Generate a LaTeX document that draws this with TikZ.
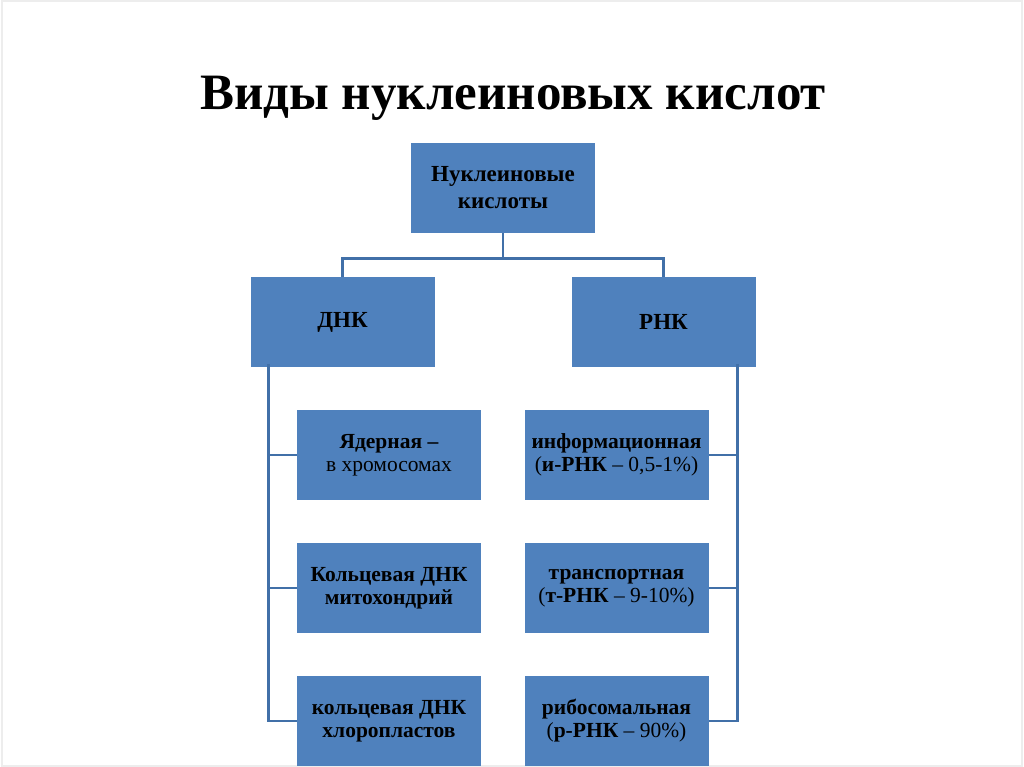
\documentclass[tikz,border=0pt]{standalone}
\usepackage{fontspec}
\setmainfont{Liberation Serif}
\usetikzlibrary{positioning}

\definecolor{boxblue}{HTML}{4F81BD}
\definecolor{lineblue}{HTML}{4170A8}

\tikzset{
  box/.style={rectangle, fill=boxblue, minimum width=184pt, minimum height=90pt,
    inner sep=0pt, align=center, text=black},
  bigbox/.style={box, font=\fontsize{23}{27}\selectfont\bfseries},
  subbox/.style={box, font=\fontsize{21.5}{23}\selectfont},
  link/.style={draw=lineblue, line width=2.6pt}
}

\begin{document}
\begin{tikzpicture}[x=1pt, y=-1pt, on grid]
  \useasboundingbox (0,0) rectangle (1024,767);
  \draw[black!7, line width=1.5pt] (2,1) rectangle (1022,766);

  \node[anchor=base, font=\fontsize{51}{54}\selectfont\bfseries] (title) at (513,110)
    {Виды нуклеиновых кислот};

  \node[bigbox] (nk) at (503,188) {Нуклеиновые\\кислоты};
  \node[bigbox] (dnk) [below left=134pt and 160.5pt of nk] {ДНК};
  \node[bigbox] (rnk) [below right=134pt and 160.5pt of nk] {РНК};

  % DNA branches
  \node[subbox] (d1) [below right=133pt and 46.5pt of dnk] {\textbf{Ядерная –}\\в хромосомах};
  \node[subbox, font=\fontsize{21.5}{23}\selectfont\bfseries] (d2) [below=133pt of d1] {Кольцевая ДНК\\митохондрий};
  \node[subbox, font=\fontsize{21.5}{23}\selectfont\bfseries] (d3) [below=133pt of d2] {кольцевая ДНК\\хлоропластов};

  % RNA branches
  \node[subbox] (r1) [below left=133pt and 47pt of rnk] {\textbf{информационная}\\(\textbf{и-РНК} – 0,5-1\%)};
  \node[subbox] (r2) [below=133pt of r1] {\textbf{транспортная}\\(\textbf{т-РНК} – 9-10\%)};
  \node[subbox] (r3) [below=133pt of r2] {\textbf{рибосомальная}\\(\textbf{р-РНК} – 90\%)};

  \draw[link] (nk.south) -- ++(0,25) -| (dnk.north);
  \draw[link] (nk.south) ++(0,25) -| (rnk.north);

  \coordinate (dtop) at ([xshift=18pt, yshift=3pt]dnk.south west);
  \coordinate (rtop) at ([xshift=-18pt, yshift=3pt]rnk.south east);
  \foreach \n in {d1,d2,d3} \draw[link] (dtop) |- (\n.west);
  \foreach \n in {r1,r2,r3} \draw[link] (rtop) |- (\n.east);
\end{tikzpicture}
\end{document}
